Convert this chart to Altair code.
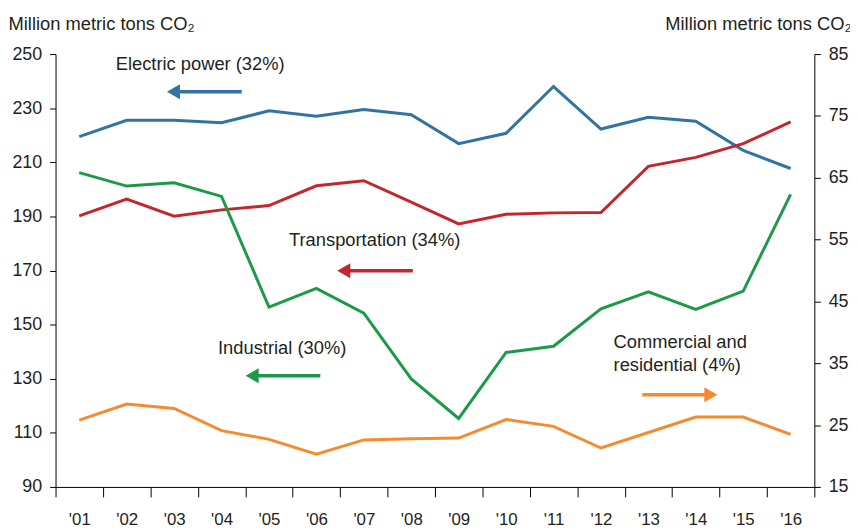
import altair as alt
import pandas as pd

# ---------------- data ----------------
years = ["'01", "'02", "'03", "'04", "'05", "'06", "'07", "'08",
         "'09", "'10", "'11", "'12", "'13", "'14", "'15", "'16"]
year_index = list(range(1, 17))

electric = [219.5, 225.5, 225.5, 224.6, 229.0, 227.0, 229.5, 227.6,
            216.9, 220.7, 238.0, 222.3, 226.6, 225.2, 214.4, 207.7]
transport = [190.2, 196.4, 190.1, 192.4, 194.0, 201.3, 203.2, 195.3,
             187.2, 190.8, 191.3, 191.4, 208.5, 211.8, 216.9, 224.9]
industrial = [206.2, 201.2, 202.4, 197.4, 156.5, 163.4, 154.2, 129.9,
              115.3, 139.7, 142.0, 155.8, 162.1, 155.6, 162.4, 198.1]
commercial = [25.8, 28.4, 27.7, 24.1, 22.7, 20.3, 22.6, 22.8,
              22.9, 25.9, 24.8, 21.3, 23.8, 26.3, 26.3, 23.5]

series_names = ["Electric power", "Transportation", "Industrial", "Commercial"]
series_colors = ["#3274a1", "#c4262e", "#1c9a4a", "#f58b31"]

# annotation labels (positions in x-index / left-axis units)
label_text = ["Electric power (32%)", "Transportation (34%)", "Industrial (30%)",
              "Commercial and", "residential (4%)"]
label_x = [1.768, 5.423, 3.926, 12.266, 12.266]
label_y = [244.0, 179.0, 139.1, 141.3, 132.9]

# arrows
arrow_series = ["Electric power", "Transportation", "Industrial", "Commercial"]
arrow_tail_x = [4.427, 8.034, 6.083, 12.872]
arrow_head_x = [2.986, 6.578, 4.646, 14.317]
arrow_y = [236.1, 169.9, 131.1, 124.1]
arrow_shape = ["triangle-left", "triangle-left", "triangle-left", "triangle-right"]

# ---------------- tables ----------------
left_rows = []
for name, vals in zip(series_names[:3], [electric, transport, industrial]):
    for i, y, v in zip(year_index, years, vals):
        left_rows.append({"series": name, "idx": i, "year": y, "value": v})
left_df = pd.DataFrame(left_rows)
right_df = pd.DataFrame({"series": "Commercial", "idx": year_index, "year": years, "value": commercial})
labels_df = pd.DataFrame({"text": label_text, "idx": label_x, "value": label_y})
arrows_df = pd.DataFrame({"series": arrow_series, "idx": arrow_tail_x, "idx2": arrow_head_x,
                          "value": arrow_y, "shape": arrow_shape})
heads_df = pd.DataFrame({"series": arrow_series, "idx": arrow_head_x,
                         "value": arrow_y, "shape": arrow_shape})

FONT = "Liberation Sans"
TXT = "#231f20"
W, H = 766, 437
TITLE = "Million metric tons CO\u2082"

x_scale = alt.Scale(domain=[0.5, 16.5], nice=False, zero=False)
x_axis = alt.Axis(
    values=[i + 0.5 for i in range(0, 17)],
    labelExpr="datum.value > 16 ? '' : \"'\" + (datum.value < 9 ? '0' : '') + format(datum.value + 0.5, 'd')",
    labelOffset=24, tickSize=10, labelPadding=15, grid=False, title=None,
    labelFontSize=17, labelOverlap=False, labelFlush=False, labelBound=False,
)
X = alt.X("idx:Q", scale=x_scale, axis=x_axis)

yl_scale = alt.Scale(domain=[90, 250], nice=False, zero=False)
yl_axis = alt.Axis(
    values=list(range(90, 251, 20)), tickSize=6, labelPadding=8, grid=False,
    title=TITLE, titleAngle=0, titleAlign="left", titleBaseline="alphabetic",
    titleX=-48, titleY=-25, titleFontSize=18.5, titleFontWeight="normal", labelFontSize=18,
)
YL = alt.Y("value:Q", scale=yl_scale, axis=yl_axis)

color = alt.Color("series:N", scale=alt.Scale(domain=series_names, range=series_colors), legend=None)

lines = alt.Chart(left_df).mark_line(strokeWidth=3).encode(x=X, y=YL, color=color, detail="series:N")
arrows = alt.Chart(arrows_df).mark_rule(strokeWidth=3.5).encode(
    x=X, x2="idx2:Q", y=YL, color=color)
heads = alt.Chart(heads_df).mark_point(filled=True, opacity=1, size=230, strokeWidth=0).encode(
    x=X, y=YL, color=color, shape=alt.Shape("shape:N", scale=None))
texts = alt.Chart(labels_df).mark_text(
    align="left", baseline="alphabetic", fontSize=18.5, font=FONT, color=TXT
).encode(x=X, y=YL, text="text:N")

left = alt.layer(lines, arrows, heads, texts)

yr_axis = alt.Axis(
    orient="right", values=list(range(15, 86, 10)), tickSize=6, labelPadding=8, grid=False,
    title=TITLE, titleAngle=0, titleAlign="right", titleBaseline="alphabetic",
    titleX=37, titleY=-25, titleFontSize=18.5, titleFontWeight="normal", labelFontSize=18,
)
right = alt.Chart(right_df).mark_line(strokeWidth=3, color=series_colors[3]).encode(
    x=X, y=alt.Y("value:Q", scale=alt.Scale(domain=[15, 85], nice=False, zero=False), axis=yr_axis))

chart = (
    alt.layer(left, right)
    .resolve_scale(y="independent")
    .properties(width=W, height=H, padding={"left": 48, "top": 44, "right": 36, "bottom": 43},
                autosize=alt.AutoSizeParams(type="none"))
    .configure_view(stroke=None)
    .configure_axis(domainColor="#000000", tickColor="#000000", labelColor=TXT, titleColor=TXT,
                    labelFont=FONT, titleFont=FONT, domainWidth=1, tickWidth=1)
)

chart.save("out.html", embed_options={"renderer": "svg", "actions": False})
